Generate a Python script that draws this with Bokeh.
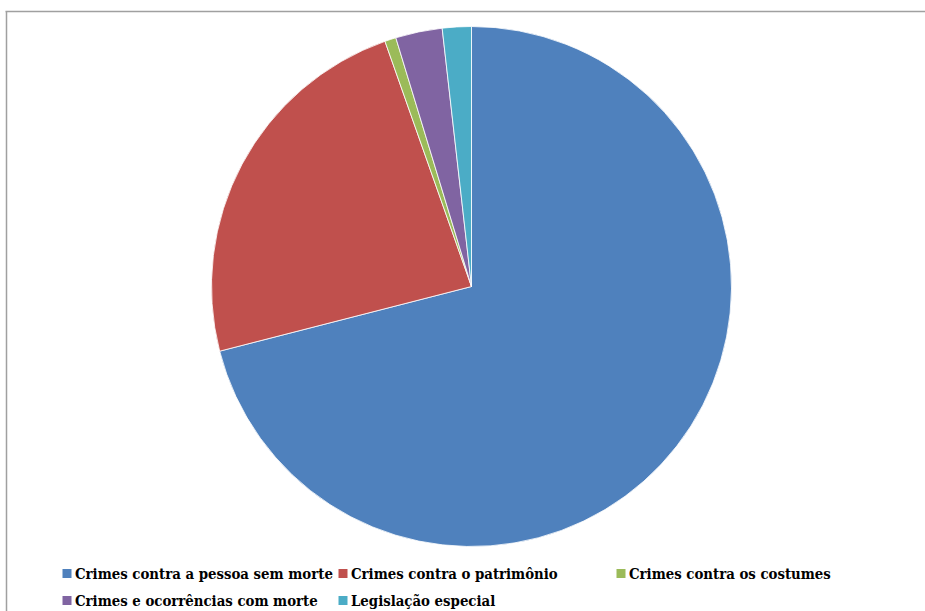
from math import pi
from bokeh.plotting import figure
from bokeh.models import Range1d, ColumnDataSource
from bokeh.core.properties import value
from bokeh.embed import file_html
from bokeh.resources import INLINE

categories = ["Crimes contra a pessoa sem morte", "Crimes contra o patrimônio",
              "Crimes contra os costumes", "Crimes e ocorrências com morte",
              "Legislação especial"]
shares = [71.0, 23.6, 0.7, 2.9, 1.8]
colors = ["#4F81BD", "#C0504D", "#9BBB59", "#8064A2", "#4BACC6"]

W, H = 925, 611
p = figure(width=W, height=H, output_backend="svg", toolbar_location=None,
           x_range=Range1d(0, W), y_range=Range1d(0, H), min_border=0,
           outline_line_color=None)
p.axis.visible = False
p.grid.visible = False

# page coords -> data coords
def px(x):
    return x
def py(y):
    return H - y

# frame
p.line([px(5), px(925)], [py(11), py(11)], line_color="#A0A0A0", line_width=1.5)
p.line([px(6), px(6)], [py(11), py(611)], line_color="#A0A0A0", line_width=1.5)

total = sum(shares)
starts, ends = [], []
cum = 0.0
for s in shares:
    starts.append(pi / 2 - cum / total * 2 * pi)
    cum += s
    ends.append(pi / 2 - cum / total * 2 * pi)
src = ColumnDataSource(dict(start=starts, end=ends, color=colors, name=categories))
p.wedge(x=px(471), y=py(286), radius=260, start_angle="start", end_angle="end",
        direction="clock", fill_color="color", line_color="white", line_width=0.8,
        source=src)

# legend
leg_x = [62, 338, 616, 62, 338]
leg_y = [573, 573, 573, 600, 600]
for i, name in enumerate(categories):
    p.rect(x=px(leg_x[i] + 4.5), y=py(leg_y[i]), width=9, height=9,
           fill_color=colors[i], line_color=None)
    p.text(x=[px(leg_x[i] + 12.5)], y=[py(leg_y[i])], text=[name],
           text_font=value("DejaVu Serif Condensed"), text_font_style="bold",
           text_font_size="14.8px", text_baseline="middle", text_color="#000000")

open("out.html", "w").write(file_html(p, INLINE))
